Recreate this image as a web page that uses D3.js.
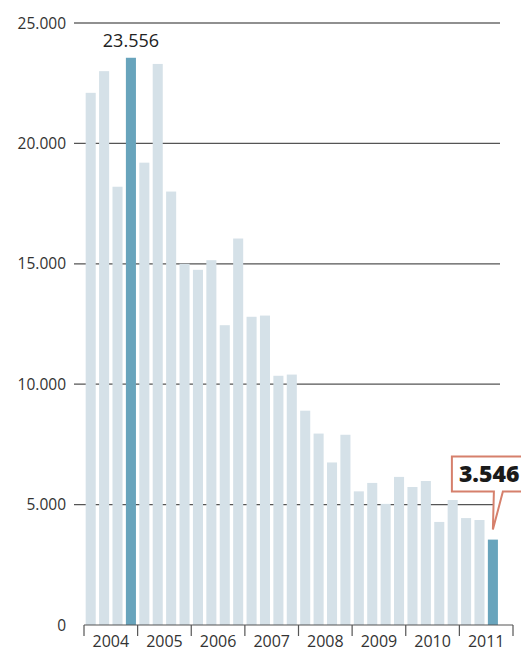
<!DOCTYPE html>
<html>
<head>
<meta charset="utf-8">
<script src="https://cdn.jsdelivr.net/npm/d3@7"></script>
<style>
  body { margin: 0; background: #fff; }
  text { font-family: "Open Sans", "Noto Sans", sans-serif; }
</style>
</head>
<body>
<script>
'use strict';

var width = 521,
    height = 651;

// quarterly figures, 2004 Q1 .. 2011 Q3
var years = ["2004", "2005", "2006", "2007", "2008", "2009", "2010", "2011"];
var quarters = ["Q1", "Q2", "Q3", "Q4"];
var values = [
  22100, 23000, 18200, 23556,
  19200, 23300, 18000, 15000,
  14750, 15150, 12450, 16050,
  12800, 12850, 10350, 10400,
  8900, 7950, 6750, 7900,
  5550, 5900, 5030, 6150,
  5730, 5980, 4280, 5190,
  4440, 4360, 3546
];
var yTicks = [0, 5000, 10000, 15000, 20000, 25000];
var highlight = [3, 30];

var fmt = d3.formatLocale({decimal: ",", thousands: ".", grouping: [3], currency: ["", ""]}).format(",");

var slots = [];
years.forEach(function(y) {
  quarters.forEach(function(q) { slots.push(y + q); });
});

var data = values.map(function(v, i) { return {key: slots[i], value: v, i: i}; });

var x = d3.scaleBand()
  .domain(slots)
  .range([84, 513])
  .paddingInner(0.25)
  .paddingOuter(0.125);

var xYear = d3.scaleBand()
  .domain(years)
  .range([84, 513]);

var y = d3.scaleLinear()
  .domain([0, 25000])
  .range([625, 23]);

var svg = d3.select("body").append("svg")
  .attr("width", width)
  .attr("height", height);

// gridlines (behind bars)
svg.selectAll("line.grid")
  .data(yTicks.filter(function(d) { return d > 0; }))
  .enter().append("line")
  .attr("class", "grid")
  .attr("x1", 74)
  .attr("x2", 500)
  .attr("y1", function(d) { return y(d); })
  .attr("y2", function(d) { return y(d); })
  .attr("stroke", function(d) { return d === 25000 ? "#222" : "#555"; })
  .attr("stroke-width", 1.2);

// y labels
svg.selectAll("text.ylab")
  .data(yTicks)
  .enter().append("text")
  .attr("class", "ylab")
  .attr("x", 66)
  .attr("y", function(d) { return y(d) + 5.5; })
  .attr("text-anchor", "end")
  .attr("font-size", 15.5)
  .attr("fill", "#333")
  .text(function(d) { return fmt(d); });

// bars
svg.selectAll("rect.bar")
  .data(data)
  .enter().append("rect")
  .attr("class", "bar")
  .attr("x", function(d) { return x(d.key); })
  .attr("width", x.bandwidth())
  .attr("y", function(d) { return y(d.value); })
  .attr("height", function(d) { return y(0) - y(d.value); })
  .attr("fill", function(d) { return highlight.indexOf(d.i) >= 0 ? "#68a4bc" : "#d5e1e8"; });

// x axis
var xAxis = svg.append("g")
  .attr("transform", "translate(0," + y(0) + ")");
xAxis.append("line")
  .attr("x1", 84).attr("x2", 513)
  .attr("stroke", "#555").attr("stroke-width", 1.2);
xAxis.selectAll("line.tick")
  .data(years.concat(["end"]))
  .enter().append("line")
  .attr("class", "tick")
  .attr("x1", function(d, i) { return 84 + i * xYear.step(); })
  .attr("x2", function(d, i) { return 84 + i * xYear.step(); })
  .attr("y1", 0).attr("y2", 11)
  .attr("stroke", "#555").attr("stroke-width", 1.2);
xAxis.selectAll("text")
  .data(years)
  .enter().append("text")
  .attr("x", function(d) { return xYear(d) + xYear.bandwidth() / 2; })
  .attr("y", 22)
  .attr("text-anchor", "middle")
  .attr("font-size", 16)
  .attr("fill", "#333")
  .text(function(d) { return d; });

// max label
var peak = data[highlight[0]];
svg.append("text")
  .attr("x", x(peak.key) + x.bandwidth() / 2)
  .attr("y", y(peak.value) - 11)
  .attr("text-anchor", "middle")
  .attr("font-size", 18)
  .attr("fill", "#222")
  .text(fmt(peak.value));

// callout for last value
var last = data[highlight[1]];
var tx = x(last.key) + x.bandwidth() / 2,
    ty = y(last.value) - 10;
var bl = tx - 41, br = tx + 40, bt = ty - 73, bb = ty - 38;
svg.append("path")
  .attr("d", "M" + bl + "," + bt + "H" + br + "V" + bb + "H" + (tx + 10) +
    "L" + tx + "," + ty + "L" + (tx + 1) + "," + bb + "H" + bl + "Z")
  .attr("fill", "#fff")
  .attr("stroke", "#d6806c")
  .attr("stroke-width", 2);
svg.append("text")
  .attr("x", bl + 7)
  .attr("y", bb - 10)
  .attr("font-size", 23)
  .attr("font-weight", 800)
  .attr("fill", "#1a1a1a")
  .text(fmt(last.value));
</script>
</body>
</html>
